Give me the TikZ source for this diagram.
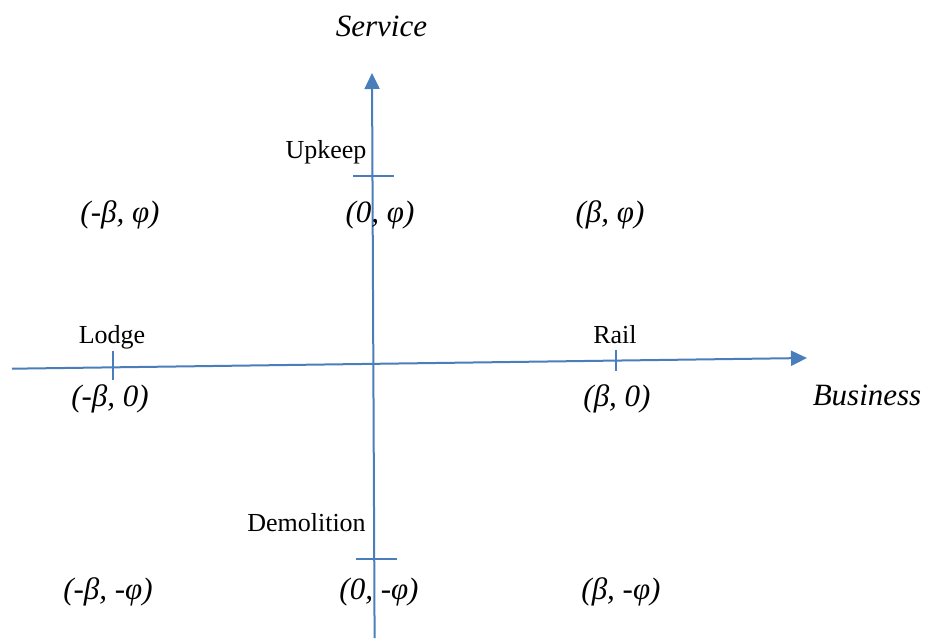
\documentclass[tikz,border=0pt]{standalone}
\usepackage{fontspec}
\setmainfont{Liberation Serif}
\usetikzlibrary{arrows.meta}
\definecolor{axisblue}{HTML}{4A7EBB}
\begin{document}
\begin{tikzpicture}[x=1pt,y=-1pt,
  axisline/.style={draw=axisblue,line width=2pt},
  tickline/.style={draw=axisblue,line width=1.6pt},
  axarrow/.style={-{Triangle[length=16pt,width=15pt]}},
  coordlabel/.style={font=\fontsize{31}{35}\selectfont\itshape,anchor=base,inner sep=0pt},
  namelabel/.style={font=\fontsize{26}{30}\selectfont,anchor=base,inner sep=0pt}]
\useasboundingbox (0,0) rectangle (927,638);
% axes
\coordinate (hstart) at (12,368.7);
\coordinate (hend) at (807,358);
\coordinate (vstart) at (374.6,638);
\coordinate (vend) at (372,73);
\draw[axisline,axarrow] (hstart) -- (hend);
\draw[axisline,axarrow] (vstart) -- (vend);
% ticks
\coordinate (upL) at (353,176);
\coordinate (upR) at (394,176);
\coordinate (dmL) at (356,559);
\coordinate (dmR) at (397,559);
\coordinate (lgT) at (113,351);
\coordinate (lgB) at (113,380);
\coordinate (rlT) at (616,350);
\coordinate (rlB) at (616,371);
\draw[tickline] (upL) -- (upR);
\draw[tickline] (dmL) -- (dmR);
\draw[tickline] (lgT) -- (lgB);
\draw[tickline] (rlT) -- (rlB);
% axis titles
\node[coordlabel] (service) at (381.5,36) {Service};
\node[coordlabel] (business) at (867,405) {Business};
% names
\node[namelabel] (upkeep) at (326,158) {Upkeep};
\node[namelabel] (lodge) at (112,343) {Lodge};
\node[namelabel] (rail) at (615,343) {Rail};
\node[namelabel] (demolition) at (306.5,531) {Demolition};
% coordinates
\node[coordlabel] (mp) at (120,222) {(-β, φ)};
\node[coordlabel] (zp) at (380,222) {(0, φ)};
\node[coordlabel] (pp) at (610,222) {(β, φ)};
\node[coordlabel] (mz) at (110,406) {(-β, 0)};
\node[coordlabel] (pz) at (617,406) {(β, 0)};
\node[coordlabel] (mm) at (108,599) {(-β, -φ)};
\node[coordlabel] (zm) at (379,599) {(0, -φ)};
\node[coordlabel] (pm) at (621,599) {(β, -φ)};
\end{tikzpicture}
\end{document}
